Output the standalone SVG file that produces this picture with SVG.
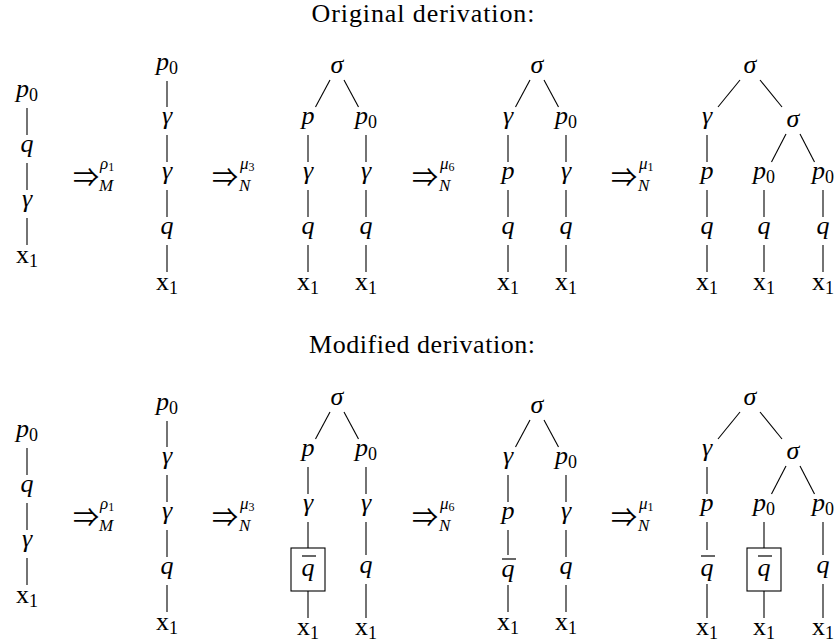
<svg xmlns="http://www.w3.org/2000/svg" width="835" height="643" viewBox="0 0 835 643">
<defs>
<style>
.e line{stroke:#000;stroke-width:1.1}
.bar{stroke:#000;stroke-width:1.2}
.box{fill:none;stroke:#000;stroke-width:1.1}
</style>
</defs>
<rect width="835" height="643" fill="#fff"/>

<g font-family="Liberation Serif" font-size="26" text-anchor="middle" fill="#000">
<text x="423" y="22" textLength="223" lengthAdjust="spacing">Original derivation:</text>
<text x="422" y="353" textLength="226" lengthAdjust="spacing">Modified derivation:</text>
</g>

<g class="e" id="connectors">
<line x1="27" y1="108" x2="27" y2="135"/><line x1="27" y1="163" x2="27" y2="190"/><line x1="27" y1="218" x2="27" y2="245"/>
<line x1="167" y1="81" x2="167" y2="107"/><line x1="167" y1="135" x2="167" y2="162"/><line x1="167" y1="190" x2="167" y2="217"/><line x1="167" y1="245" x2="167" y2="272"/>
<line x1="330" y1="80" x2="315.5" y2="107"/><line x1="344" y1="80" x2="358.5" y2="107"/>
<line x1="308" y1="135" x2="308" y2="162"/><line x1="308" y1="190" x2="308" y2="217"/><line x1="308" y1="245" x2="308" y2="272"/>
<line x1="366" y1="135" x2="366" y2="162"/><line x1="366" y1="190" x2="366" y2="217"/><line x1="366" y1="245" x2="366" y2="272"/>
<line x1="530" y1="80" x2="515.5" y2="107"/><line x1="544" y1="80" x2="558.5" y2="107"/>
<line x1="508" y1="135" x2="508" y2="162"/><line x1="508" y1="190" x2="508" y2="217"/><line x1="508" y1="245" x2="508" y2="272"/>
<line x1="566" y1="135" x2="566" y2="162"/><line x1="566" y1="190" x2="566" y2="217"/><line x1="566" y1="245" x2="566" y2="272"/>
<line x1="740" y1="80" x2="718" y2="107"/><line x1="760" y1="80" x2="782" y2="107"/>
<line x1="786" y1="134" x2="771.5" y2="162"/><line x1="800" y1="134" x2="814.5" y2="162"/>
<line x1="707" y1="135" x2="707" y2="162"/><line x1="707" y1="190" x2="707" y2="217"/><line x1="707" y1="245" x2="707" y2="272"/>
<line x1="764" y1="190" x2="764" y2="217"/><line x1="764" y1="245" x2="764" y2="272"/>
<line x1="823" y1="190" x2="823" y2="217"/><line x1="823" y1="245" x2="823" y2="272"/>

<line x1="27" y1="448" x2="27" y2="475"/><line x1="27" y1="503" x2="27" y2="530"/><line x1="27" y1="558" x2="27" y2="585"/>
<line x1="167" y1="421" x2="167" y2="447"/><line x1="167" y1="475" x2="167" y2="502"/><line x1="167" y1="530" x2="167" y2="557"/><line x1="167" y1="585" x2="167" y2="612"/>
<line x1="330" y1="412" x2="315.5" y2="439"/><line x1="344" y1="412" x2="358.5" y2="439"/>
<line x1="308" y1="467" x2="308" y2="494"/><line x1="308" y1="522" x2="308" y2="548"/><line x1="308" y1="591" x2="308" y2="618"/>
<line x1="366" y1="467" x2="366" y2="494"/><line x1="366" y1="522" x2="366" y2="555"/><line x1="366" y1="584" x2="366" y2="618"/>
<line x1="530" y1="420" x2="515.5" y2="447"/><line x1="544" y1="420" x2="558.5" y2="447"/>
<line x1="508" y1="475" x2="508" y2="502"/><line x1="508" y1="530" x2="508" y2="555"/><line x1="508" y1="585" x2="508" y2="612"/>
<line x1="566" y1="475" x2="566" y2="502"/><line x1="566" y1="530" x2="566" y2="557"/><line x1="566" y1="585" x2="566" y2="612"/>
<line x1="740" y1="412" x2="718" y2="439"/><line x1="760" y1="412" x2="782" y2="439"/>
<line x1="786" y1="466" x2="771.5" y2="494"/><line x1="800" y1="466" x2="814.5" y2="494"/>
<line x1="707" y1="467" x2="707" y2="494"/><line x1="707" y1="522" x2="707" y2="550"/><line x1="707" y1="584" x2="707" y2="618"/>
<line x1="764" y1="522" x2="764" y2="548"/><line x1="764" y1="591" x2="764" y2="618"/>
<line x1="823" y1="522" x2="823" y2="555"/><line x1="823" y1="584" x2="823" y2="618"/>
</g>

<g font-family="Liberation Serif" font-size="26" font-style="italic" text-anchor="middle" fill="#000">

<g id="o-t1">
<text x="27" y="97">p<tspan font-size="18" font-style="normal" dy="4">0</tspan></text>
<text x="27" y="152">q</text>
<text x="27" y="207">γ</text>
<text x="27" y="263" font-style="normal">x<tspan font-size="18" dy="4">1</tspan></text>
</g>
<g id="o-t2">
<text x="167" y="70">p<tspan font-size="18" font-style="normal" dy="4">0</tspan></text>
<text x="167" y="124">γ</text>
<text x="167" y="179">γ</text>
<text x="167" y="234">q</text>
<text x="167" y="290" font-style="normal">x<tspan font-size="18" dy="4">1</tspan></text>
</g>
<g id="o-t3">
<text x="337" y="73">σ</text>
<text x="308" y="124">p</text>
<text x="366" y="124">p<tspan font-size="18" font-style="normal" dy="4">0</tspan></text>
<text x="308" y="179">γ</text>
<text x="366" y="179">γ</text>
<text x="308" y="234">q</text>
<text x="366" y="234">q</text>
<text x="308" y="290" font-style="normal">x<tspan font-size="18" dy="4">1</tspan></text>
<text x="366" y="290" font-style="normal">x<tspan font-size="18" dy="4">1</tspan></text>
</g>
<g id="o-t4">
<text x="537" y="73">σ</text>
<text x="508" y="124">γ</text>
<text x="566" y="124">p<tspan font-size="18" font-style="normal" dy="4">0</tspan></text>
<text x="508" y="179">p</text>
<text x="566" y="179">γ</text>
<text x="508" y="234">q</text>
<text x="566" y="234">q</text>
<text x="508" y="290" font-style="normal">x<tspan font-size="18" dy="4">1</tspan></text>
<text x="566" y="290" font-style="normal">x<tspan font-size="18" dy="4">1</tspan></text>
</g>
<g id="o-t5">
<text x="750" y="73">σ</text>
<text x="707" y="124">γ</text>
<text x="793" y="127">σ</text>
<text x="707" y="179">p</text>
<text x="764" y="179">p<tspan font-size="18" font-style="normal" dy="4">0</tspan></text>
<text x="823" y="179">p<tspan font-size="18" font-style="normal" dy="4">0</tspan></text>
<text x="707" y="234">q</text>
<text x="764" y="234">q</text>
<text x="823" y="234">q</text>
<text x="707" y="290" font-style="normal">x<tspan font-size="18" dy="4">1</tspan></text>
<text x="764" y="290" font-style="normal">x<tspan font-size="18" dy="4">1</tspan></text>
<text x="823" y="290" font-style="normal">x<tspan font-size="18" dy="4">1</tspan></text>
</g>

<g id="m-t1">
<text x="27" y="437">p<tspan font-size="18" font-style="normal" dy="4">0</tspan></text>
<text x="27" y="492">q</text>
<text x="27" y="547">γ</text>
<text x="27" y="603" font-style="normal">x<tspan font-size="18" dy="4">1</tspan></text>
</g>
<g id="m-t2">
<text x="167" y="410">p<tspan font-size="18" font-style="normal" dy="4">0</tspan></text>
<text x="167" y="464">γ</text>
<text x="167" y="519">γ</text>
<text x="167" y="574">q</text>
<text x="167" y="630" font-style="normal">x<tspan font-size="18" dy="4">1</tspan></text>
</g>
<g id="m-t3">
<text x="337" y="405">σ</text>
<text x="308" y="456">p</text>
<text x="366" y="456">p<tspan font-size="18" font-style="normal" dy="4">0</tspan></text>
<text x="308" y="511">γ</text>
<text x="366" y="511">γ</text>
<rect class="box" x="291" y="548" width="34" height="43"/>
<line class="bar" x1="302" y1="556" x2="316" y2="556"/>
<text x="308" y="576">q</text>
<text x="366" y="573">q</text>
<text x="308" y="635" font-style="normal">x<tspan font-size="18" dy="4">1</tspan></text>
<text x="366" y="635" font-style="normal">x<tspan font-size="18" dy="4">1</tspan></text>
</g>
<g id="m-t4">
<text x="537" y="413">σ</text>
<text x="508" y="464">γ</text>
<text x="566" y="464">p<tspan font-size="18" font-style="normal" dy="4">0</tspan></text>
<text x="508" y="519">p</text>
<text x="566" y="519">γ</text>
<line class="bar" x1="502" y1="559" x2="516" y2="559"/>
<text x="508" y="577">q</text>
<text x="566" y="574">q</text>
<text x="508" y="630" font-style="normal">x<tspan font-size="18" dy="4">1</tspan></text>
<text x="566" y="630" font-style="normal">x<tspan font-size="18" dy="4">1</tspan></text>
</g>
<g id="m-t5">
<text x="750" y="405">σ</text>
<text x="707" y="456">γ</text>
<text x="793" y="459">σ</text>
<text x="707" y="511">p</text>
<text x="764" y="511">p<tspan font-size="18" font-style="normal" dy="4">0</tspan></text>
<text x="823" y="511">p<tspan font-size="18" font-style="normal" dy="4">0</tspan></text>
<line class="bar" x1="701" y1="556" x2="715" y2="556"/>
<text x="707" y="576">q</text>
<rect class="box" x="747" y="548" width="34" height="43"/>
<line class="bar" x1="758" y1="556" x2="772" y2="556"/>
<text x="764" y="576">q</text>
<text x="823" y="573">q</text>
<text x="707" y="635" font-style="normal">x<tspan font-size="18" dy="4">1</tspan></text>
<text x="764" y="635" font-style="normal">x<tspan font-size="18" dy="4">1</tspan></text>
<text x="823" y="635" font-style="normal">x<tspan font-size="18" dy="4">1</tspan></text>
</g>
</g>

<g font-family="Liberation Serif" font-size="17" font-style="italic" fill="#000">
<g id="o-a1"><text x="73" y="187" font-family="Noto Sans CJK JP" font-size="26" font-style="normal">⇒</text><text x="100" y="169">ρ<tspan font-size="12" font-style="normal" dy="2">1</tspan></text><text x="99" y="191">M</text></g>
<g id="o-a2"><text x="212" y="187" font-family="Noto Sans CJK JP" font-size="26" font-style="normal">⇒</text><text x="240" y="169">μ<tspan font-size="12" font-style="normal" dy="2">3</tspan></text><text x="239" y="191">N</text></g>
<g id="o-a3"><text x="412" y="187" font-family="Noto Sans CJK JP" font-size="26" font-style="normal">⇒</text><text x="440" y="169">μ<tspan font-size="12" font-style="normal" dy="2">6</tspan></text><text x="439" y="191">N</text></g>
<g id="o-a4"><text x="611" y="187" font-family="Noto Sans CJK JP" font-size="26" font-style="normal">⇒</text><text x="639" y="169">μ<tspan font-size="12" font-style="normal" dy="2">1</tspan></text><text x="638" y="191">N</text></g>
<g id="m-a1"><text x="73" y="527" font-family="Noto Sans CJK JP" font-size="26" font-style="normal">⇒</text><text x="100" y="509">ρ<tspan font-size="12" font-style="normal" dy="2">1</tspan></text><text x="99" y="531">M</text></g>
<g id="m-a2"><text x="212" y="527" font-family="Noto Sans CJK JP" font-size="26" font-style="normal">⇒</text><text x="240" y="509">μ<tspan font-size="12" font-style="normal" dy="2">3</tspan></text><text x="239" y="531">N</text></g>
<g id="m-a3"><text x="412" y="527" font-family="Noto Sans CJK JP" font-size="26" font-style="normal">⇒</text><text x="440" y="509">μ<tspan font-size="12" font-style="normal" dy="2">6</tspan></text><text x="439" y="531">N</text></g>
<g id="m-a4"><text x="611" y="527" font-family="Noto Sans CJK JP" font-size="26" font-style="normal">⇒</text><text x="639" y="509">μ<tspan font-size="12" font-style="normal" dy="2">1</tspan></text><text x="638" y="531">N</text></g>
</g>
</svg>
